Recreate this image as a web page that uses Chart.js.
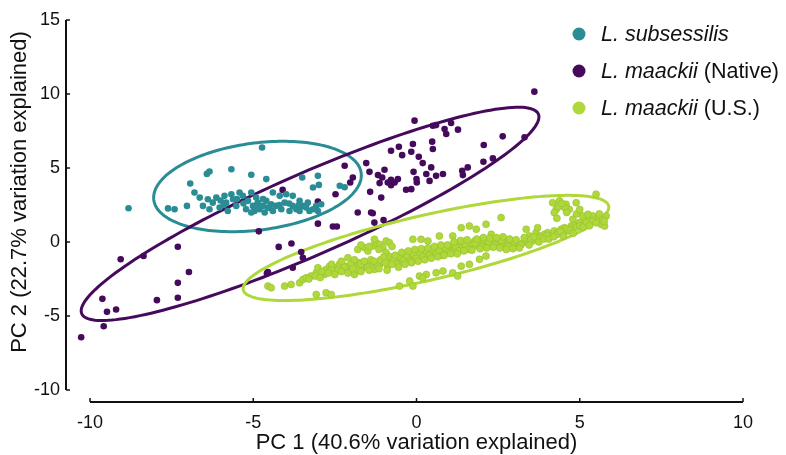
<!DOCTYPE html>
<html>
<head>
<meta charset="utf-8">
<script src="https://cdn.jsdelivr.net/npm/chart.js@4.4.0/dist/chart.umd.min.js"></script>
<style>
  html, body { margin: 0; padding: 0; background: #fff; }
  #wrap { width: 786px; height: 455px; }
</style>
</head>
<body>
<div id="wrap"><canvas id="pca"></canvas></div>
<script>
// axis ticks
const xTicks = [-10, -5, 0, 5, 10];
const yTicks = [-10, -5, 0, 5, 10, 15];

// series names (italic part, plain part)
const seriesItalic = ['L. subsessilis', 'L. maackii', 'L. maackii'];
const seriesPlain = ['', ' (Native)', ' (U.S.)'];
const seriesColors = ['#2a8c94', '#450a5c', '#afd83a'];

// L. subsessilis scores [PC1, PC2]
const subsessilis = [
  [-8.82,2.28],[-4.73,6.39],[-6.34,4.76],[-6.42,4.6],[-5.67,4.92],[-5.06,4.54],[-4.6,4.25],[-6.93,3.95],
  [-6.8,3.34],[-3.5,4.36],[-3.02,4.47],[-2.99,3.86],[-2.35,3.8],[-2.2,3.7],[-3.17,3.68],[-7.61,2.27],
  [-7.41,2.21],[-7.03,2.44],
  [-6.64,3.0],[-6.54,2.44],[-6.39,2.89],[-6.34,2.21],[-6.24,2.66],[-6.13,3.0],[-6.03,2.33],[-5.88,3.12],
  [-5.83,2.66],[-5.78,2.1],[-5.67,3.23],[-5.62,2.89],[-5.52,2.44],[-5.42,3.34],[-5.32,3.12],[-5.22,2.21],
  [-5.16,2.78],[-5.06,3.34],[-5.01,2.44],[-4.96,2.1],[-4.91,3.0],[-4.86,2.66],[-4.81,2.21],[-4.71,2.44],
  [-4.65,1.99],[-4.6,2.78],[-4.55,2.33],[-4.45,2.55],[-4.4,2.1],[-4.3,2.44],[-4.14,2.21],[-4.04,2.66],
  [-3.99,3.23],[-3.89,2.1],[-3.79,2.44],[-3.68,2.21],[-3.58,2.1],[-3.48,2.44],[-3.38,2.33],[-3.33,2.66],
  [-3.28,2.1],[-3.17,2.21],[-3.07,2.44],[-3.02,2.1],[-2.92,2.55],[-4.4,3.34],[-4.19,3.12],[-3.79,3.12],
  [-3.58,2.78],[-5.06,1.99],[-5.9,2.5],[-5.5,2.9],[-4.9,2.5],[-4.7,2.9],[-4.5,2.3],[-4.2,2.5],
  [-5.3,2.6],[-6.0,2.8],[-3.9,2.6],[-3.6,2.5]
];

// L. maackii native range scores
const maackiiNative = [
  [3.61,10.16],[-0.06,8.2],[0.5,7.86],[0.6,7.9],[0.86,7.63],[0.91,7.3],[1.06,8.04],[1.27,7.59],
  [2.64,7.14],[3.31,7.07],[2.06,6.55],[2.34,5.65],[2.05,5.42],[1.57,5.04],[1.4,4.81],[1.42,4.52],
  [0.81,4.59],[0.6,4.47],[0.4,4.13],[0.45,5.04],[0.3,4.59],[0.5,6.28],[0.48,6.78],[-0.11,6.62],
  [-0.16,6.1],[0.07,5.76],[0.19,5.33],[-0.54,6.44],[-0.78,6.17],[-0.44,5.87],[-0.09,4.74],[0.0,4.25],
  [0.01,4.02],[-0.57,4.25],[-0.67,4.02],[-0.78,3.84],[-0.88,4.02],[-1.13,3.98],[-1.18,4.52],[-0.98,4.88],
  [-1.05,4.36],[-0.78,4.2],[-1.54,5.33],[-1.44,4.74],[-1.42,3.39],[-1.08,3.0],[-0.32,3.53],[-0.16,3.57],
  [-2.2,5.15],[-1.95,4.36],[-2.03,4.02],[-2.48,3.23],[-1.8,1.99],[-1.39,1.99],[-4.1,3.52],[-3.02,2.73],
  [-3.02,1.24],[-2.56,1.05],[-2.44,1.05],[-4.83,0.72],[-1.34,1.94],[-1.29,1.31],[-1.01,1.49],[-4.22,-0.33],
  [-3.83,-0.1],[-3.53,-0.68],[-3.48,-1.06],[-3.79,-1.74],[-4.58,-2.12],[-7.31,-0.32],[-9.06,-1.17],[-8.36,-0.95],
  [-6.97,-2.03],[-7.31,-2.76],[-7.31,-3.77],[-7.95,-3.93],[-9.62,-3.84],[-9.48,-4.72],[-9.2,-4.56],[-9.58,-5.69],
  [-10.27,-6.44],[-4.55,-2.03]
];

// L. maackii introduced (U.S.) scores
const maackiiUS = [
  [-4.55,-2.98],[-4.45,-3.09],[-4.04,-2.98],[-3.84,-2.87],[-3.58,-2.76],[-3.48,-2.53],[-3.38,-2.42],[-3.23,-2.3],
  [-3.07,-2.08],[-3.02,-1.74],[-2.82,-2.19],[-2.77,-1.85],[-2.66,-1.63],[-2.56,-1.96],[-2.46,-1.74],[-2.36,-1.51],
  [-2.26,-1.85],[-2.15,-1.63],[-2.1,-1.06],[-2.0,-1.96],[-1.9,-2.19],[-1.85,-1.63],[-1.75,-1.4],[-1.64,-1.74],
  [-1.59,-0.38],[-1.49,-0.61],[-1.34,-0.27],[-1.24,-0.05],[-1.13,-0.16],[-1.03,-0.38],[-0.93,0.07],[-0.83,-0.05],
  [-1.54,-1.63],[-1.39,-1.4],[-1.29,-1.85],[-1.13,-1.51],[-1.03,-1.29],[-0.88,-1.63],[-0.78,-1.17],[-0.67,-1.4],
  [-0.57,-0.95],[-0.47,-1.29],[-0.37,-0.84],[-0.27,-1.17],[-0.16,-0.95],[-0.06,-1.06],[0.04,-0.72],[0.14,-0.95],
  [0.24,-0.61],[0.35,-0.84],[0.45,-0.72],[0.55,-0.61],[0.65,-0.5],[0.75,-0.72],[0.86,-0.38],[0.96,-0.61],
  [1.06,-0.27],[1.16,-0.5],[1.26,-0.16],[1.37,-0.38],[1.47,-0.05],[1.57,-0.27],[1.67,-0.16],[1.78,0.07],
  [1.88,-0.27],[1.98,-0.05],[2.08,0.07],[2.18,-0.16],[2.29,0.18],[2.39,-0.05],[2.49,0.07],[2.59,-0.16],
  [2.69,-0.05],[2.8,-0.05],[2.9,-0.16],[3.0,-0.27],[3.1,-0.16],[3.26,-0.05],[3.36,0.18],[3.46,0.41],
  [3.56,0.07],[3.66,0.63],[3.77,0.41],[3.92,0.52],[4.02,0.63],[4.12,0.41],[4.22,0.75],[4.33,0.63],
  [4.43,0.86],[4.53,0.97],[4.63,0.75],[4.74,1.08],[4.84,1.2],[4.99,1.31],[5.14,1.54],[5.3,1.65],
  [5.4,1.76],[5.5,1.54],[5.65,1.2],[5.76,1.08],[5.81,1.76],[5.5,3.23],[4.89,2.66],[4.17,2.66],
  [4.28,2.21],[4.38,2.78],[4.48,2.44],[4.58,2.55],[4.68,2.21],[4.22,1.99],[5.09,1.76],[5.25,1.87],
  [4.79,1.54],[-0.11,0.18],[0.14,0.18],[0.35,0.07],[0.7,0.41],[1.11,0.41],[1.37,0.97],[1.62,1.08],
  [1.83,0.86],[2.13,1.2],[2.29,0.52],[2.59,1.65],[3.36,0.86],[3.71,0.97],[-1.29,0.18],[-0.93,-0.72],
  [-0.52,-2.98],[-0.21,-2.64],[0.09,-2.3],[0.3,-2.19],[0.6,-2.08],[0.81,-1.96],[1.11,-2.08],[1.26,-2.3],
  [1.37,-1.63],[1.62,-1.51],[1.93,-1.17],[2.13,-0.95],[-3.07,-3.55],[-2.77,-3.43],[-2.61,-3.55],[-0.11,-2.98],
  [0.19,-2.42],[-2.9,-2.0],[-2.6,-1.8],[-2.4,-1.9],[-2.2,-1.7],[-2.0,-1.5],[-1.8,-1.9],[-1.7,-1.5],
  [-1.5,-1.7],[-1.4,-1.2],[-1.2,-1.6],[-1.1,-1.2],[-0.95,-1.4],[-0.8,-1.0],[-0.7,-1.2],[-0.6,-1.5],
  [-0.5,-1.0],[-0.4,-1.2],[-0.3,-0.9],[-0.2,-1.3],[-0.1,-0.8],[0.0,-1.1],[0.1,-0.7],[0.2,-1.0],
  [0.3,-0.6],[0.4,-0.9],[0.5,-0.5],[0.6,-0.8],[0.7,-0.6],[0.8,-0.9],[0.9,-0.4],[1.0,-0.7],
  [1.2,-0.3],[1.3,-0.6],[1.5,-0.2],[1.6,-0.5],[1.8,-0.1],[2.0,-0.3],[2.2,0.0],[2.4,-0.2],
  [2.6,0.1],[2.8,-0.3],[3.0,0.0],[3.2,-0.2],[3.5,0.2],[3.8,0.3],[4.0,0.45],[4.3,0.5],
  [4.6,0.9],[4.9,1.0],[5.2,1.3],[5.4,1.4],[5.6,1.6],
  [-3.3,-2.5],[-3.1,-2.3],[-2.95,-2.4],[-2.7,-2.1],[-2.5,-2.2],[-2.3,-2.0],[-2.1,-2.1],[-1.95,-1.8],
  [-1.7,-2.0],[-1.6,-1.3],[-1.45,-1.9],[-1.3,-1.3],[-1.15,-1.8],[-1.0,-1.0],[-0.9,-1.9],[-0.75,-1.5],
  [-0.65,-0.9],[-0.55,-1.7],[-0.45,-0.7],[-0.35,-1.5],[-0.25,-0.6],[-0.15,-1.4],[-0.05,-0.5],[0.05,-1.3],
  [0.15,-0.45],[0.25,-1.2],[0.35,-0.4],[0.45,-1.1],[0.55,-0.3],[0.65,-1.0],[0.75,-0.2],[0.85,-0.9],
  [0.95,-0.2],[1.05,-0.8],[1.15,0.0],[1.25,-0.8],[1.35,0.1],[1.45,-0.6],[1.55,0.15],[1.7,-0.55],
  [1.85,0.2],[1.95,-0.45],[2.05,0.3],[2.15,-0.4],[2.25,0.25],[2.35,-0.35],[2.45,0.3],[2.55,-0.4],
  [2.65,0.35],[2.75,-0.5],[2.85,0.2],[2.95,-0.45],[3.05,0.15],[3.15,-0.4],[3.3,0.3],[3.45,-0.2],
  [3.6,0.35],[3.75,0.0],[3.9,0.2],[4.05,0.2],[4.2,0.35],[4.4,0.7],[4.5,0.4],[4.7,0.8],
  [4.8,0.6],[5.0,1.1],[5.1,1.0],[5.3,1.1],[5.5,1.3],[5.7,1.5],[-1.8,-0.5],[-1.7,-0.2],
  [-1.45,-0.3],[-1.15,-0.5],[-0.75,-0.3],[-1.9,-1.2],[-2.3,-1.3],[-2.6,-1.5],[4.35,2.4],[4.55,2.3],
  [4.45,2.6],[4.6,2.0],[4.3,1.6],[4.9,1.9],[5.0,2.2],[5.6,1.9],[5.75,1.4]
];

// confidence ellipses: centre and two conjugate half-axes, in PC units
const ellipseCenters = [[-4.87, 3.75], [-3.26, 1.9], [0.29, -0.4]];
const ellipseAxisA = [[3.18, 0.75], [7.01, 6.55], [5.6, 2.75]];
const ellipseAxisB = [[0, 2.96], [0, 3.0], [0, 2.25]];

const xTitle = 'PC 1 (40.6% variation explained)';
const yTitle = 'PC 2 (22.7% variation explained)';

const FONT = '"Liberation Sans", Arial, Helvetica, sans-serif';

const toPts = arr => arr.map(p => ({ x: p[0], y: p[1] }));

// ellipses behind the points
const ellipsePlugin = {
  id: 'ellipses',
  beforeDatasetsDraw(chart) {
    const { ctx, scales: { x, y } } = chart;
    ctx.save();
    ctx.lineWidth = 3;
    for (let k = 0; k < ellipseCenters.length; k++) {
      const c = ellipseCenters[k], a = ellipseAxisA[k], b = ellipseAxisB[k];
      ctx.strokeStyle = seriesColors[k];
      ctx.beginPath();
      for (let i = 0; i <= 180; i++) {
        const t = i / 180 * Math.PI * 2;
        const px = x.getPixelForValue(c[0] + Math.cos(t) * a[0] + Math.sin(t) * b[0]);
        const py = y.getPixelForValue(c[1] + Math.cos(t) * a[1] + Math.sin(t) * b[1]);
        if (i === 0) ctx.moveTo(px, py); else ctx.lineTo(px, py);
      }
      ctx.closePath();
      ctx.stroke();
    }
    ctx.restore();
  }
};

// offset spines, inward ticks, titles and legend
const framePlugin = {
  id: 'frame',
  afterDraw(chart) {
    const { ctx, chartArea, scales: { x, y } } = chart;
    ctx.save();
    ctx.strokeStyle = '#111';
    ctx.fillStyle = '#111';

    // x spine
    const xb = chartArea.bottom;
    const x0 = x.getPixelForValue(xTicks[0]);
    const x1 = x.getPixelForValue(xTicks[xTicks.length - 1]);
    ctx.lineWidth = 2;
    ctx.beginPath();
    ctx.moveTo(x0, xb); ctx.lineTo(x1, xb);
    ctx.stroke();
    ctx.lineWidth = 1.5;
    xTicks.forEach(v => {
      const px = x.getPixelForValue(v);
      ctx.beginPath(); ctx.moveTo(px, xb); ctx.lineTo(px, xb - 4); ctx.stroke();
    });

    // y spine
    const yl = chartArea.left;
    const y0 = y.getPixelForValue(yTicks[0]);
    const y1 = y.getPixelForValue(yTicks[yTicks.length - 1]);
    ctx.lineWidth = 2;
    ctx.beginPath();
    ctx.moveTo(yl, y0); ctx.lineTo(yl, y1);
    ctx.stroke();
    ctx.lineWidth = 1.5;
    yTicks.forEach(v => {
      const py = y.getPixelForValue(v);
      ctx.beginPath(); ctx.moveTo(yl, py); ctx.lineTo(yl + 4, py); ctx.stroke();
    });

    // axis titles
    ctx.font = '22px ' + FONT;
    ctx.textAlign = 'center';
    ctx.textBaseline = 'alphabetic';
    ctx.fillText(xTitle, (x0 + x1) / 2, 449);
    ctx.save();
    ctx.translate(26, 192);
    ctx.rotate(-Math.PI / 2);
    ctx.fillText(yTitle, 0, 0);
    ctx.restore();

    // legend
    ctx.textAlign = 'left';
    ctx.textBaseline = 'middle';
    for (let k = 0; k < seriesItalic.length; k++) {
      const ly = 34 + k * 37;
      ctx.fillStyle = seriesColors[k];
      ctx.beginPath();
      ctx.arc(579, ly, 6.5, 0, Math.PI * 2);
      ctx.fill();
      ctx.fillStyle = '#111';
      ctx.font = 'italic 21.5px ' + FONT;
      ctx.fillText(seriesItalic[k], 601, ly + 1);
      const w = ctx.measureText(seriesItalic[k]).width;
      ctx.font = '21.5px ' + FONT;
      ctx.fillText(seriesPlain[k], 601 + w, ly + 1);
    }
    ctx.restore();
  }
};

const ctx = document.getElementById('pca').getContext('2d');
new Chart(ctx, {
  type: 'scatter',
  data: {
    datasets: [
      { label: seriesItalic[0] + seriesPlain[0], data: toPts(subsessilis), backgroundColor: seriesColors[0], borderWidth: 0, pointRadius: 3.3 },
      { label: seriesItalic[1] + seriesPlain[1], data: toPts(maackiiNative), backgroundColor: seriesColors[1], borderWidth: 0, pointRadius: 3.3 },
      { label: seriesItalic[2] + seriesPlain[2], data: toPts(maackiiUS), backgroundColor: seriesColors[2], borderColor: '#98c030', borderWidth: 0.6, pointRadius: 3.5 }
    ]
  },
  options: {
    responsive: true,
    maintainAspectRatio: false,
    animation: false,
    layout: { padding: { top: 20, right: 43, left: 0, bottom: 0 } },
    plugins: {
      legend: { display: false },
      tooltip: { enabled: false }
    },
    scales: {
      x: {
        type: 'linear',
        min: -10.735,
        max: 10,
        grid: { display: false, drawTicks: false },
        border: { display: false },
        afterBuildTicks: s => { s.ticks = xTicks.map(v => ({ value: v })); },
        afterFit: s => { s.height = 53; },
        ticks: { color: '#111', padding: 10, font: { family: FONT, size: 18 } }
      },
      y: {
        type: 'linear',
        min: -10.81,
        max: 15,
        grid: { display: false, drawTicks: false },
        border: { display: false },
        afterBuildTicks: s => { s.ticks = yTicks.map(v => ({ value: v })); },
        afterFit: s => { s.width = 66; },
        ticks: { color: '#111', padding: 6, font: { family: FONT, size: 18 } }
      }
    }
  },
  plugins: [ellipsePlugin, framePlugin]
});
</script>
</body>
</html>
